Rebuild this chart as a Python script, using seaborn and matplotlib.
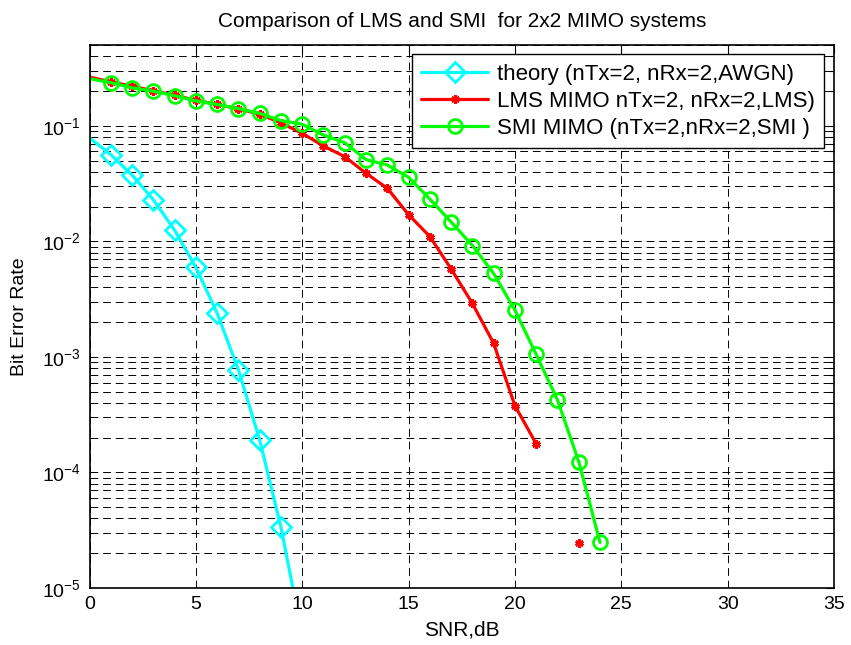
import numpy as np
import pandas as pd
import matplotlib
matplotlib.use("Agg")
import matplotlib.pyplot as plt
import seaborn as sns
from matplotlib.ticker import LogLocator, FixedLocator

# ---- data ----
snr_theory = [0, 1, 2, 3, 4, 5, 6, 7, 8, 9, 10]
ber_theory = [0.0786, 0.0563, 0.0375, 0.0229, 0.0125, 0.00595, 0.00239,
              0.000773, 0.000191, 3.36e-5, 3.87e-6]

snr_lms = [0, 1, 2, 3, 4, 5, 6, 7, 8, 9, 10, 11, 12, 13, 14, 15, 16, 17,
           18, 19, 20, 21]
ber_lms = [0.264, 0.240, 0.220, 0.201, 0.184, 0.166, 0.153, 0.140, 0.126,
           0.106, 0.086, 0.0668, 0.0541, 0.0388, 0.0288, 0.0170, 0.0110,
           0.00577, 0.00290, 0.00131, 0.000378, 0.000177]
snr_lms_extra = [23]
ber_lms_extra = [2.46e-5]

snr_smi = [0, 1, 2, 3, 4, 5, 6, 7, 8, 9, 10, 11, 12, 13, 14, 15, 16, 17,
           18, 19, 20, 21, 22, 23, 24]
ber_smi = [0.256, 0.236, 0.213, 0.199, 0.182, 0.164, 0.153, 0.141, 0.128,
           0.111, 0.103, 0.083, 0.0713, 0.0509, 0.0458, 0.0358, 0.0232,
           0.0147, 0.0092, 0.00527, 0.00254, 0.00105, 0.000424, 0.000124,
           2.48e-5]

labels = ["theory (nTx=2, nRx=2,AWGN)",
          "LMS MIMO nTx=2, nRx=2,LMS)",
          "SMI MIMO (nTx=2,nRx=2,SMI )"]
x_ticks = [0, 5, 10, 15, 20, 25, 30, 35]

# ---- styling ----
sns.set_theme(style="white")
plt.rcParams["font.family"] = ["Liberation Sans", "DejaVu Sans"]
plt.rcParams["mathtext.fontset"] = "custom"
plt.rcParams["mathtext.rm"] = "Liberation Sans"
plt.rcParams["mathtext.it"] = "Liberation Sans"
plt.rcParams["axes.unicode_minus"] = False
plt.rcParams["text.color"] = "black"
plt.rcParams["axes.labelcolor"] = "black"
plt.rcParams["axes.titlecolor"] = "black"

fig = plt.figure(figsize=(8.51, 6.45), dpi=100)
ax = fig.add_axes([89.5 / 851, 1 - 588 / 645, (834 - 89.5) / 851, (588 - 45) / 645])

cyan = (0, 1, 1)
red = (1, 0, 0)
green = (0, 1, 0)
ast = (6, 2, 0)

df_t = pd.DataFrame({"snr": snr_theory, "ber": ber_theory})
df_l = pd.DataFrame({"snr": snr_lms, "ber": ber_lms})
df_l2 = pd.DataFrame({"snr": snr_lms_extra, "ber": ber_lms_extra})
df_s = pd.DataFrame({"snr": snr_smi, "ber": ber_smi})

sns.lineplot(data=df_t, x="snr", y="ber", ax=ax, color=cyan, lw=2.3,
             marker="D", markersize=10, markerfacecolor="none",
             markeredgecolor=cyan, markeredgewidth=2, markevery=list(range(1, len(snr_theory))),
             estimator=None, sort=False, label=labels[0])
sns.lineplot(data=df_l, x="snr", y="ber", ax=ax, color=red, lw=2.3,
             marker=ast, markersize=6, markeredgecolor=red, markeredgewidth=2,
             markevery=list(range(1, len(snr_lms))),
             estimator=None, sort=False, label=labels[1])
sns.lineplot(data=df_l2, x="snr", y="ber", ax=ax, color=red, lw=2.3,
             marker=ast, markersize=6, markeredgecolor=red, markeredgewidth=2,
             estimator=None, sort=False, legend=False)
sns.lineplot(data=df_s, x="snr", y="ber", ax=ax, color=green, lw=2.3,
             marker="o", markersize=10, markerfacecolor="none",
             markeredgecolor=green, markeredgewidth=2,
             markevery=list(range(1, len(snr_smi))),
             estimator=None, sort=False, label=labels[2])

ax.set_yscale("log")
ax.set_xlim(0, 35)
ax.set_ylim(1e-5, 0.5)
ax.xaxis.set_major_locator(FixedLocator(x_ticks))
ax.yaxis.set_major_locator(LogLocator(base=10, numticks=10))
ax.yaxis.set_minor_locator(LogLocator(base=10, subs=np.arange(2, 10), numticks=20))

ax.set_axisbelow(True)
dash = (0, (8, 5))
ax.grid(True, which="major", axis="both", color="black", linestyle=dash, lw=0.7)
ax.grid(True, which="minor", axis="y", color="black", linestyle=dash, lw=0.7)

ax.tick_params(axis="both", which="both", direction="in", top=True, right=True,
               labelsize=14, colors="black")
ax.tick_params(axis="both", which="major", length=6, width=0.8, pad=6)
ax.tick_params(axis="y", which="minor", length=3.5, width=0.8)
for s in ax.spines.values():
    s.set_color("black")
    s.set_linewidth(1.2)

ax.set_title("Comparison of LMS and SMI  for 2x2 MIMO systems", fontsize=15, pad=13)
ax.set_xlabel("SNR,dB", fontsize=15, labelpad=5)
ax.set_ylabel("Bit Error Rate", fontsize=14, labelpad=10)

leg = ax.legend(loc="upper right", bbox_to_anchor=(0.9865, 0.983), fontsize=16,
                frameon=True, fancybox=False, edgecolor="black", framealpha=1,
                handlelength=3.0, borderpad=0.42, labelspacing=0.28,
                handletextpad=0.4, borderaxespad=0)
leg.get_frame().set_linewidth(1.0)

fig.savefig("out.png", dpi=100)
